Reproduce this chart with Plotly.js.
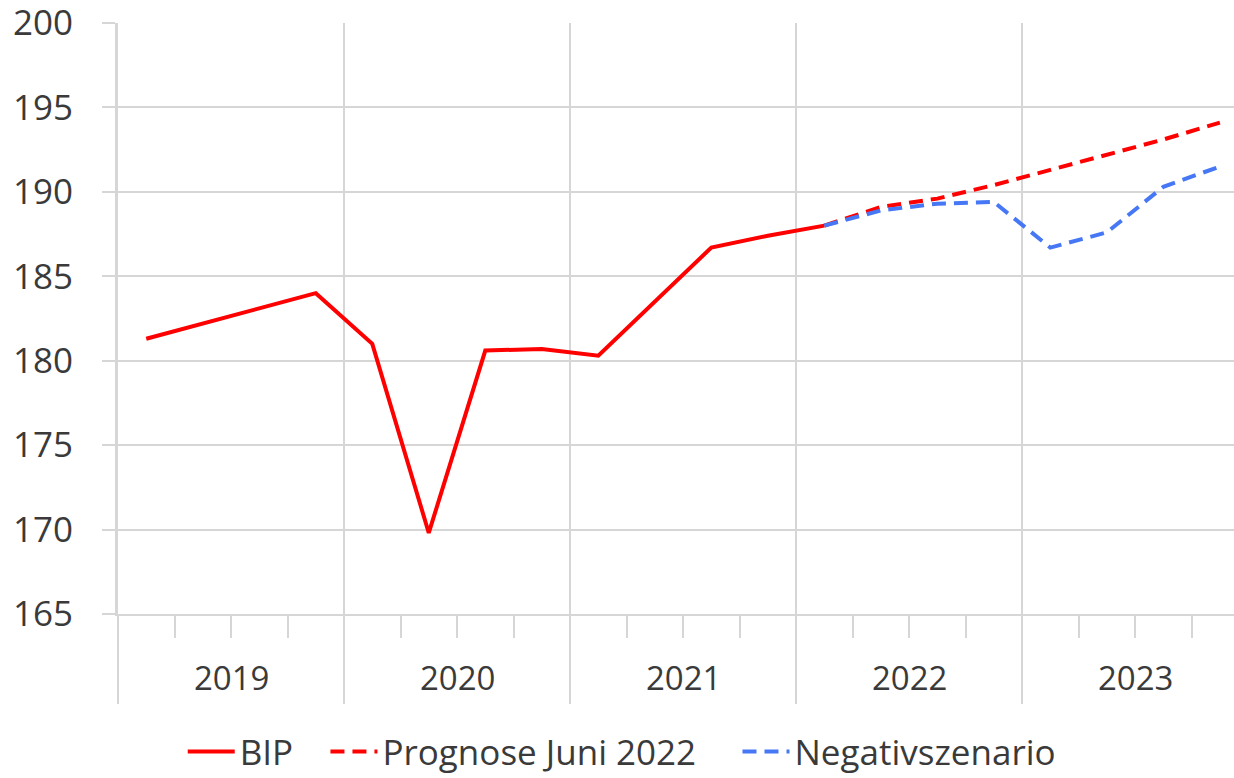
<!DOCTYPE html>
<html>
<head>
<meta charset="utf-8">
<script src="https://cdn.plot.ly/plotly-3.0.1.min.js"></script>
<style>
  html, body { margin: 0; padding: 0; background: #fff; overflow: hidden; }
</style>
</head>
<body>
<div id="chart" style="width:1234px;height:778px;"></div>
<script>
// quarterly values, 2019 Q1 .. 2023 Q4
var years = [2019, 2020, 2021, 2022, 2023];
var bip = [181.3, 182.2, 183.1, 184.0, 181.0, 169.8, 180.6, 180.7, 180.3, 183.5, 186.7, 187.4, 188.0];
var prognose = [188.0, 189.1, 189.6, 190.4, 191.3, 192.2, 193.1, 194.1];
var negativ = [188.0, 188.9, 189.3, 189.4, 186.7, 187.6, 190.3, 191.5];
var seriesNames = ['BIP', 'Prognose Juni 2022', 'Negativszenario'];

var forecastStart = bip.length - 1;
function idx(arr, off) { return arr.map(function (v, i) { return i + off; }); }

var gridCol = '#d6d6d6';
var textCol = '#3a3a3a';
var nb = '\u00a0'; // extra room between legend entries

var traces = [
  { x: idx(bip, 0), y: bip, name: seriesNames[0] + nb.repeat(3), type: 'scatter', mode: 'lines',
    line: { color: '#ff0000', width: 4 } },
  { x: idx(prognose, forecastStart), y: prognose, name: seriesNames[1] + nb.repeat(4), type: 'scatter', mode: 'lines',
    line: { color: '#ff0000', width: 4, dash: '14px,8px' } },
  { x: idx(negativ, forecastStart), y: negativ, name: seriesNames[2], type: 'scatter', mode: 'lines',
    line: { color: '#4677f5', width: 4, dash: '14px,8px' } }
];

// year boundaries and year label positions
var bounds = [];
for (var i = 0; i <= years.length; i++) bounds.push(i * 4 - 0.5);
var yearLabels = years.map(function (y, i) {
  return { x: i * 4 + 1.5, xref: 'x', y: -0.108, yref: 'paper', text: String(y),
           showarrow: false, yanchor: 'middle', font: { size: 33, color: textCol } };
});

var layout = {
  width: 1234, height: 778,
  margin: { l: 118, r: 0, t: 23, b: 164, autoexpand: false },
  paper_bgcolor: '#fff', plot_bgcolor: '#fff',
  font: { family: 'Open Sans, sans-serif', color: textCol },
  showlegend: true,
  legend: { orientation: 'h', x: 0.058, xanchor: 'left', y: -0.183, yanchor: 'top',
            itemwidth: 47, font: { size: 35, color: textCol } },
  xaxis: {
    range: [-0.5, 19.25],
    tickvals: bounds, ticktext: bounds.map(function () { return ''; }),
    showgrid: true, gridcolor: gridCol, gridwidth: 2,
    ticks: 'outside', ticklen: 88, tickwidth: 2, tickcolor: gridCol,
    minor: { dtick: 1, tick0: -0.5, ticks: 'outside', ticklen: 22, tickwidth: 2, tickcolor: gridCol, showgrid: false },
    showline: true, linecolor: gridCol, linewidth: 2,
    zeroline: false, fixedrange: true
  },
  yaxis: {
    range: [165, 200], dtick: 5,
    showgrid: true, gridcolor: gridCol, gridwidth: 2,
    ticks: 'outside', ticklen: 13, tickwidth: 2, tickcolor: gridCol,
    ticklabelstandoff: 22, ticklabeloverflow: 'allow',
    showline: true, linecolor: gridCol, linewidth: 3,
    zeroline: false, fixedrange: true,
    tickfont: { size: 35, color: textCol }
  },
  annotations: yearLabels
};

Plotly.newPlot('chart', traces, layout, { displayModeBar: false, staticPlot: true });
</script>
</body>
</html>
